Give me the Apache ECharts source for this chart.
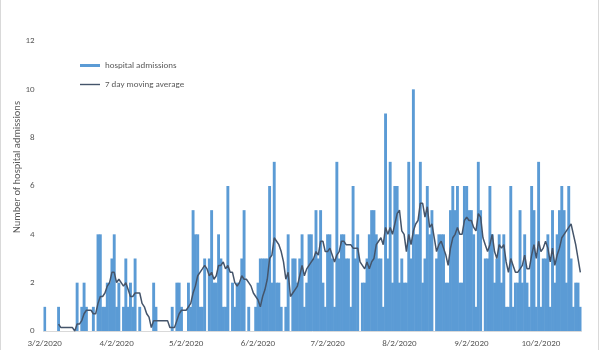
<!DOCTYPE html>
<html>
<head>
<meta charset="utf-8">
<script src="https://cdn.jsdelivr.net/npm/echarts@6/dist/echarts.min.js"></script>
<style>
  html, body { margin: 0; padding: 0; background: #fff; }
  #chart { width: 600px; height: 350px; }
</style>
</head>
<body>
<div id="chart"></div>
<script>
// Daily hospital admissions, one value per day starting 3/2/2020
const admissions = [
  1, 0, 0, 0, 0, 0, 1, 0, 0, 0,   // 3/2 - 3/11
  0, 0, 0, 0, 2, 0, 1, 2, 1, 0,   // 3/12 - 3/21
  0, 1, 0, 4, 4, 1, 1, 2, 2, 3,   // 3/22 - 3/31
  4, 1, 2, 0, 1, 3, 1, 2, 1, 3,   // 4/1 - 4/10
  0, 1, 0, 0, 0, 0, 0, 2, 1, 0,   // 4/11 - 4/20
  0, 0, 0, 0, 0, 1, 0, 2, 2, 1,   // 4/21 - 4/30
  0, 0, 2, 1, 5, 4, 4, 1, 1, 3,   // 5/1 - 5/10
  0, 3, 5, 2, 2, 4, 3, 1, 1, 6,   // 5/11 - 5/20
  0, 2, 1, 2, 2, 3, 5, 0, 1, 0,   // 5/21 - 5/30
  0, 1, 2, 3, 3, 3, 3, 6, 2, 7,   // 5/31 - 6/9
  2, 2, 1, 0, 1, 4, 0, 3, 3, 2,   // 6/10 - 6/19
  3, 4, 1, 2, 4, 4, 3, 5, 3, 5,   // 6/20 - 6/29
  2, 1, 4, 4, 3, 1, 7, 3, 4, 4,   // 6/30 - 7/9
  3, 3, 1, 6, 3, 4, 0, 2, 2, 3,   // 7/10 - 7/19
  4, 5, 5, 4, 3, 3, 1, 9, 3, 7,   // 7/20 - 7/29
  2, 6, 6, 2, 3, 2, 2, 7, 3, 10,  // 7/30 - 8/8
  4, 4, 7, 2, 3, 6, 4, 5, 0, 3,   // 8/9 - 8/18
  4, 4, 4, 2, 2, 5, 6, 5, 6, 2,   // 8/19 - 8/28
  2, 6, 6, 5, 5, 4, 1, 7, 5, 0,   // 8/29 - 9/7
  3, 3, 6, 4, 2, 3, 4, 2, 4, 1,   // 9/8 - 9/17
  1, 6, 1, 2, 2, 5, 2, 4, 2, 1,   // 9/18 - 9/27
  6, 5, 1, 7, 1, 3, 3, 4, 1, 5,   // 9/28 - 10/7
  2, 4, 5, 6, 5, 2, 6, 3, 1, 2,   // 10/8 - 10/17
  2, 1                            // 10/18 - 10/19
];

// Labelled dates on the horizontal axis
const tickLabels = ['3/2/2020', '4/2/2020', '5/2/2020', '6/2/2020',
                    '7/2/2020', '8/2/2020', '9/2/2020', '10/2/2020'];

// Vertical axis range
const yMin = 0, yMax = 12, yStep = 2;

// Length of the trailing moving-average window, in days
const maWindow = 7;

const FONT = 'Carlito, Calibri, Lato, sans-serif';
const GREY = '#595959';
const BAR_COLOR = '#5B9BD5';
const LINE_COLOR = '#44546A';

// One category per day, written as M/D/YYYY
const categories = admissions.map(function (_, i) {
  const d = new Date(Date.UTC(2020, 2, 2 + i));
  return (d.getUTCMonth() + 1) + '/' + d.getUTCDate() + '/' + d.getUTCFullYear();
});

// Trailing 7 day mean of the admissions; empty until a full window exists
const movingAverage = admissions.map(function (_, i) {
  if (i < maWindow - 1) return null;
  let s = 0;
  for (let k = i - maWindow + 1; k <= i; k++) s += admissions[k];
  return +(s / maWindow).toFixed(3);
});

const chart = echarts.init(document.getElementById('chart'), null, { renderer: 'canvas' });

const legendText = { fontFamily: FONT, fontSize: 9, color: GREY, lineHeight: 12 };

chart.setOption({
  animation: false,
  backgroundColor: '#ffffff',
  textStyle: { fontFamily: FONT },
  grid: {
    left: 43.5, right: 18.5, top: 41, bottom: 19,
    containLabel: false,
    outerBoundsMode: 'none'
  },
  legend: [
    {
      left: 80, top: 59.5, padding: 0,
      itemWidth: 20, itemHeight: 3,
      textStyle: legendText,
      data: [{ name: 'hospital admissions', icon: 'rect' }]
    },
    {
      left: 80, top: 78.5, padding: 0,
      itemWidth: 20, itemHeight: 1.4,
      textStyle: legendText,
      data: [{ name: '7 day moving average', icon: 'rect' }]
    }
  ],
  xAxis: {
    type: 'category',
    data: categories,
    boundaryGap: true,
    axisLine: { show: true, lineStyle: { color: '#D9D9D9', width: 1 } },
    axisTick: { show: false },
    splitLine: { show: false },
    axisLabel: {
      interval: function (index, value) { return tickLabels.indexOf(value) !== -1; },
      hideOverlap: false,
      color: GREY,
      fontSize: 9,
      fontFamily: FONT,
      margin: 8
    }
  },
  yAxis: {
    type: 'value',
    min: yMin,
    max: yMax,
    interval: yStep,
    axisLine: { show: false },
    axisTick: { show: false },
    splitLine: { show: false },
    axisLabel: { color: GREY, fontSize: 9, fontFamily: FONT, margin: 9 }
  },
  series: [
    {
      name: 'hospital admissions',
      type: 'bar',
      data: admissions,
      // slightly wider than a day so neighbouring bars close up without seams
      barWidth: '125%',
      itemStyle: { color: BAR_COLOR },
      emphasis: { disabled: true }
    },
    {
      name: '7 day moving average',
      type: 'line',
      data: movingAverage,
      symbol: 'none',
      showSymbol: false,
      smooth: false,
      connectNulls: false,
      lineStyle: { color: LINE_COLOR, width: 1.5 },
      itemStyle: { color: LINE_COLOR },
      z: 3
    }
  ],
  graphic: [
    {
      type: 'text',
      x: 17, y: 167,
      rotation: Math.PI / 2,
      silent: true,
      style: {
        text: 'Number of hospital admissions',
        fontFamily: FONT, fontSize: 10.5, fill: GREY,
        textAlign: 'center', textVerticalAlign: 'middle'
      }
    },
    { type: 'line', shape: { x1: 0.5, y1: 0, x2: 0.5, y2: 350 }, style: { stroke: '#D9D9D9', lineWidth: 1 }, silent: true },
    { type: 'line', shape: { x1: 598.5, y1: 0, x2: 598.5, y2: 350 }, style: { stroke: '#D9D9D9', lineWidth: 1 }, silent: true }
  ]
});
</script>
</body>
</html>
